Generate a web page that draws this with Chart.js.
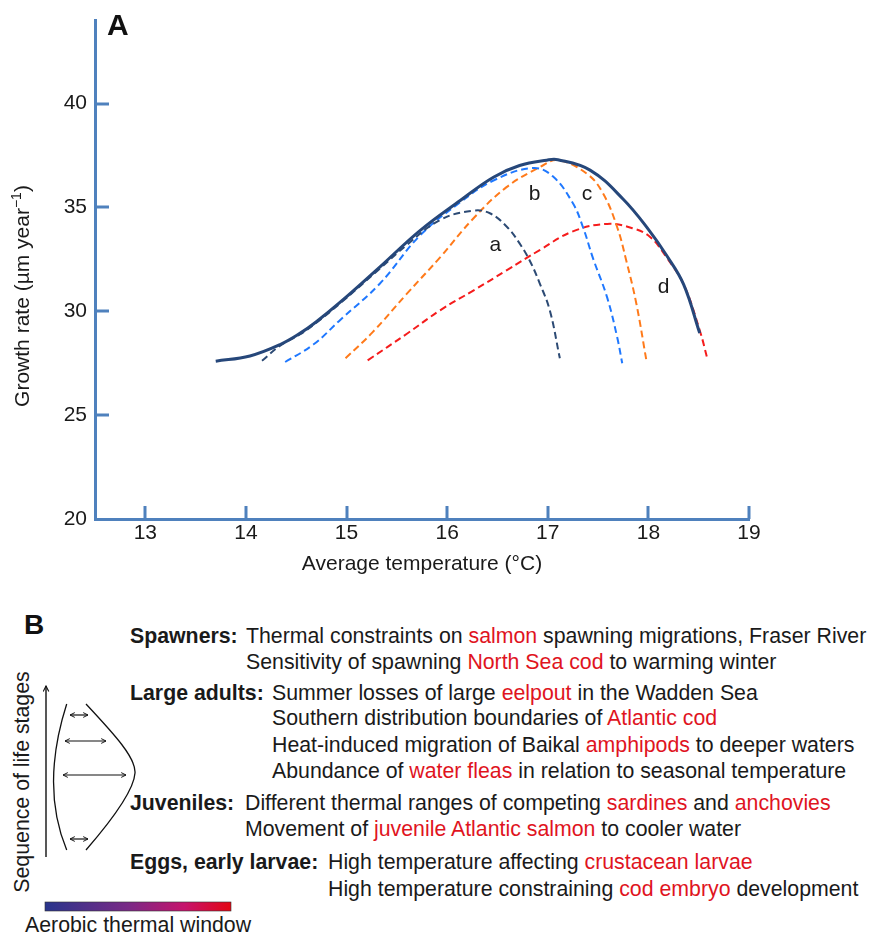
<!DOCTYPE html>
<html>
<head>
<meta charset="utf-8">
<title>Growth rate and average temperature</title>
<script src="https://cdn.jsdelivr.net/npm/chart.js@4.4.1/dist/chart.umd.min.js"></script>
<style>
    body { margin: 0; background: #fff; font-family: "Liberation Sans", Arial, sans-serif; }
    #page { position: relative; width: 869px; height: 935px; overflow: hidden; }
    #chartA { position: absolute; left: 0; top: 0; }
    .line { position: absolute; font-size: 21.3px; line-height: 26px; color: #1a1a1a; white-space: nowrap; }
    .lab { font-weight: bold; }
    .red { color: #e0141e; }
    #letterB { position: absolute; left: 24px; top: 609px; font-size: 28px; line-height: 32px; font-weight: bold; color: #111; }
    #diagram { position: absolute; left: 0; top: 600px; }
</style>
</head>
<body>
<div id="page">
    <canvas id="chartA" width="869" height="600"></canvas>

    <div id="letterB">B</div>

    <div class="line lab" style="left:130px; top:623px">Spawners:</div>
    <div class="line" style="left:246px; top:623px">Thermal constraints on <span class="red">salmon</span> spawning migrations, Fraser River</div>
    <div class="line" style="left:246px; top:649px">Sensitivity of spawning <span class="red">North Sea cod</span> to warming winter</div>

    <div class="line lab" style="left:130px; top:680px">Large adults:</div>
    <div class="line" style="left:272px; top:680px">Summer losses of large <span class="red">eelpout</span> in the Wadden Sea</div>
    <div class="line" style="left:272px; top:705px">Southern distribution boundaries of <span class="red">Atlantic cod</span></div>
    <div class="line" style="left:272px; top:732px">Heat-induced migration of Baikal <span class="red">amphipods</span> to deeper waters</div>
    <div class="line" style="left:272px; top:758px">Abundance of <span class="red">water fleas</span> in relation to seasonal temperature</div>

    <div class="line lab" style="left:130px; top:790px">Juveniles:</div>
    <div class="line" style="left:245px; top:790px">Different thermal ranges of competing <span class="red">sardines</span> and <span class="red">anchovies</span></div>
    <div class="line" style="left:245px; top:816px">Movement of <span class="red">juvenile Atlantic salmon</span> to cooler water</div>

    <div class="line lab" style="left:130px; top:849px">Eggs, early larvae:</div>
    <div class="line" style="left:328px; top:849px">High temperature affecting <span class="red">crustacean larvae</span></div>
    <div class="line" style="left:328px; top:876px">High temperature constraining <span class="red">cod embryo</span> development</div>

    <svg id="diagram" width="260" height="335">
        <defs>
            <marker id="ah" viewBox="0 0 10 10" refX="9" refY="5" markerWidth="5" markerHeight="5" orient="auto-start-reverse">
                <path d="M1,1 L9,5 L1,9" fill="none" stroke="#111" stroke-width="1.6"/>
            </marker>
            <linearGradient id="aw" x1="0" x2="1" y1="0" y2="0">
                <stop offset="0" stop-color="#29358c"/>
                <stop offset="0.45" stop-color="#7a2a86"/>
                <stop offset="0.75" stop-color="#c6136c"/>
                <stop offset="1" stop-color="#e30613"/>
            </linearGradient>
        </defs>
        <line x1="46" y1="257" x2="46" y2="86" stroke="#111" stroke-width="1.4" marker-end="url(#ah)"/>
        <text transform="translate(29,182) rotate(-90)" text-anchor="middle" font-size="21.3" fill="#1a1a1a" font-family="Liberation Sans, Arial, sans-serif">Sequence of life stages</text>
        <path d="M66.7,104 C52,150 46,200 66.7,250" fill="none" stroke="#111" stroke-width="1.3"/>
        <path d="M86,104 C115,135 136,158 135,173 C134,190 112,220 86,250" fill="none" stroke="#111" stroke-width="1.3"/>
        <line x1="70" y1="115" x2="88" y2="115" stroke="#111" stroke-width="1.2" marker-start="url(#ah)" marker-end="url(#ah)"/>
        <line x1="65" y1="141" x2="106" y2="141" stroke="#111" stroke-width="1.2" marker-start="url(#ah)" marker-end="url(#ah)"/>
        <line x1="63" y1="175" x2="126" y2="175" stroke="#111" stroke-width="1.2" marker-start="url(#ah)" marker-end="url(#ah)"/>
        <line x1="70" y1="239" x2="88" y2="239" stroke="#111" stroke-width="1.2" marker-start="url(#ah)" marker-end="url(#ah)"/>
        <rect x="45" y="302" width="186" height="9" fill="url(#aw)" stroke="#333" stroke-width="0.6"/>
        <text x="25" y="332" font-size="21.3" fill="#1a1a1a" font-family="Liberation Sans, Arial, sans-serif">Aerobic thermal window</text>
    </svg>
</div>

<script>
let axisBlue = '#4f81bd';
let textColor = '#1a1a1a';

// tick values
let tempTicks = [13, 14, 15, 16, 17, 18, 19];
let rateTicks = [25, 30, 35, 40];

// solid envelope
let envTemp = [13.70, 14.04, 14.34, 14.54, 14.70, 14.94, 15.33, 15.73, 16.13, 16.46, 16.72, 16.99, 17.10, 17.42, 17.75, 18.00, 18.18, 18.35, 18.51];
let envRate = [27.60, 27.85, 28.40, 28.95, 29.50, 30.45, 32.13, 33.89, 35.34, 36.46, 37.02, 37.28, 37.30, 36.80, 35.40, 33.95, 32.70, 31.30, 28.95];

// dashed curves a-d
let aTemp = [14.16, 14.34, 14.54, 14.70, 14.94, 15.33, 15.60, 15.93, 16.26, 16.43, 16.60, 16.72, 16.82, 16.92, 17.02, 17.12];
let aRate = [27.62, 28.35, 28.90, 29.45, 30.40, 32.05, 33.20, 34.40, 34.85, 34.71, 34.04, 33.27, 32.45, 31.35, 30.05, 27.74];

let bTemp = [14.39, 14.67, 14.94, 15.33, 15.73, 16.13, 16.46, 16.85, 17.05, 17.25, 17.35, 17.45, 17.59, 17.69, 17.74];
let bRate = [27.56, 28.40, 29.60, 31.33, 33.65, 35.25, 36.30, 36.90, 36.50, 35.20, 34.05, 32.55, 30.67, 28.75, 27.50];

let cTemp = [14.99, 15.26, 15.60, 15.93, 16.26, 16.59, 16.92, 17.10, 17.39, 17.55, 17.69, 17.78, 17.88, 17.98];
let cRate = [27.74, 29.00, 30.85, 32.60, 34.47, 35.98, 36.94, 37.28, 36.62, 35.67, 34.05, 32.45, 30.38, 27.64];

let dTemp = [15.21, 15.60, 15.93, 16.26, 16.59, 16.92, 17.25, 17.59, 17.85, 18.02, 18.18, 18.35, 18.51, 18.59];
let dRate = [27.64, 28.92, 30.05, 31.00, 31.97, 32.95, 33.85, 34.21, 33.99, 33.57, 32.60, 31.30, 29.09, 27.64];

// curve letters
let letterText = ['a', 'b', 'c', 'd'];
let letterTemp = [16.48, 16.87, 17.39, 18.15];
let letterRate = [33.17, 35.66, 35.62, 31.17];

function pts(xs, ys) {
    return xs.map((x, i) => ({ x: x, y: ys[i] }));
}

function dashed(data, color) {
    return {
        data: data,
        borderColor: color,
        borderWidth: 2,
        borderDash: [7, 4],
        pointRadius: 0,
        tension: 0.4,
        fill: false
    };
}

// tick marks inside the axes, curve letters, y title and panel letter
let extras = {
    id: 'extras',
    afterDraw(chart) {
        let ctx = chart.ctx;
        let xs = chart.scales.x;
        let ys = chart.scales.y;
        let area = chart.chartArea;
        ctx.save();
        ctx.strokeStyle = axisBlue;
        ctx.lineWidth = 3;
        tempTicks.forEach(t => {
            let px = Math.round(xs.getPixelForValue(t));
            ctx.beginPath();
            ctx.moveTo(px, area.bottom);
            ctx.lineTo(px, area.bottom - 13);
            ctx.stroke();
        });
        rateTicks.forEach(r => {
            let py = Math.round(ys.getPixelForValue(r));
            ctx.beginPath();
            ctx.moveTo(area.left, py);
            ctx.lineTo(area.left + 14, py);
            ctx.stroke();
        });

        ctx.fillStyle = textColor;
        ctx.font = '21px "Liberation Sans", Arial, sans-serif';
        ctx.textAlign = 'center';
        ctx.textBaseline = 'middle';
        letterText.forEach((l, i) => {
            ctx.fillText(l, xs.getPixelForValue(letterTemp[i]), ys.getPixelForValue(letterRate[i]));
        });

        // y title with superscript
        let main = 'Growth rate (\u00b5m year';
        let sup = '\u22121';
        let close = ')';
        ctx.textAlign = 'left';
        ctx.textBaseline = 'alphabetic';
        ctx.font = '21px "Liberation Sans", Arial, sans-serif';
        let w1 = ctx.measureText(main).width;
        let w3 = ctx.measureText(close).width;
        ctx.font = '14px "Liberation Sans", Arial, sans-serif';
        let w2 = ctx.measureText(sup).width;
        let start = -(w1 + w2 + w3) / 2;
        ctx.translate(29, 296);
        ctx.rotate(-Math.PI / 2);
        ctx.font = '21px "Liberation Sans", Arial, sans-serif';
        ctx.fillText(main, start, 0);
        ctx.font = '14px "Liberation Sans", Arial, sans-serif';
        ctx.fillText(sup, start + w1, -8);
        ctx.font = '21px "Liberation Sans", Arial, sans-serif';
        ctx.fillText(close, start + w1 + w2, 0);
        ctx.restore();

        ctx.save();
        ctx.fillStyle = '#111';
        ctx.font = 'bold 30px "Liberation Sans", Arial, sans-serif';
        ctx.textAlign = 'left';
        ctx.textBaseline = 'alphabetic';
        ctx.fillText('A', 107, 35);
        ctx.restore();
    }
};

new Chart(document.getElementById('chartA'), {
    type: 'line',
    data: {
        datasets: [
            {
                data: pts(envTemp, envRate),
                borderColor: '#26477a',
                borderWidth: 3,
                pointRadius: 0,
                tension: 0.4,
                fill: false
            },
            dashed(pts(aTemp, aRate), '#2c4a74'),
            dashed(pts(bTemp, bRate), '#1f78ff'),
            dashed(pts(cTemp, cRate), '#ff7a1a'),
            dashed(pts(dTemp, dRate), '#f51c1c')
        ]
    },
    options: {
        responsive: false,
        devicePixelRatio: 1,
        animation: false,
        layout: { padding: { top: 18, right: 120, left: 0, bottom: 0 } },
        plugins: {
            legend: { display: false },
            tooltip: { enabled: false }
        },
        scales: {
            x: {
                type: 'linear',
                min: 12.5,
                max: 19,
                afterFit: scale => { scale.height = 81; },
                grid: { color: 'transparent', drawOnChartArea: false, drawTicks: false },
                border: { display: true, color: axisBlue, width: 3 },
                ticks: {
                    stepSize: 1,
                    includeBounds: false,
                    autoSkip: false,
                    maxRotation: 0,
                    padding: 2,
                    color: textColor,
                    font: { size: 21, family: '"Liberation Sans", Arial, sans-serif' }
                },
                title: {
                    display: true,
                    text: 'Average temperature (\u00b0C)',
                    color: textColor,
                    font: { size: 21, family: '"Liberation Sans", Arial, sans-serif' },
                    padding: { top: 0, bottom: 23 }
                }
            },
            y: {
                type: 'linear',
                min: 20,
                max: 44,
                afterFit: scale => { scale.width = 95; },
                grid: { color: 'transparent', drawOnChartArea: false, drawTicks: false },
                border: { display: true, color: axisBlue, width: 3 },
                ticks: {
                    stepSize: 5,
                    includeBounds: false,
                    padding: 8,
                    color: textColor,
                    font: { size: 21, family: '"Liberation Sans", Arial, sans-serif' }
                }
            }
        }
    },
    plugins: [extras]
});
</script>
</body>
</html>
